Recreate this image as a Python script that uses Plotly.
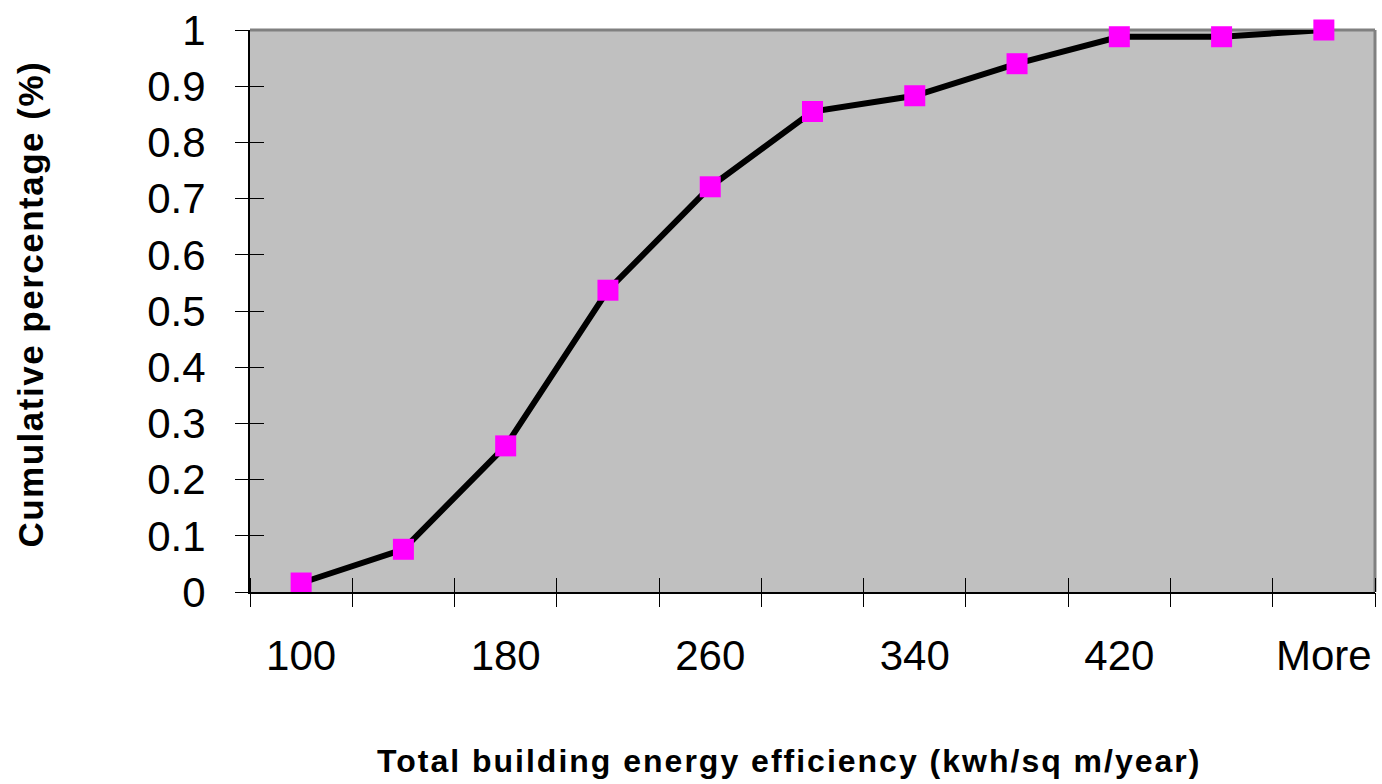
import plotly.graph_objects as go

categories = ["100", "140", "180", "220", "260", "300", "340", "380", "420", "460", "More"]
cumulative = [0.016, 0.076, 0.26, 0.537, 0.721, 0.855, 0.883, 0.94, 0.988, 0.988, 1.0]
x_label_positions = [0, 2, 4, 6, 8, 10]
x_label_text = ["100", "180", "260", "340", "420", "More"]
y_ticks = [round(i * 0.1, 1) for i in range(11)]
y_tick_text = ["0", "0.1", "0.2", "0.3", "0.4", "0.5", "0.6", "0.7", "0.8", "0.9", "1"]

idx = list(range(len(categories)))
boundaries = [i - 0.5 for i in range(len(categories) + 1)]

FONT = "Liberation Sans, Arial, sans-serif"

fig = go.Figure()
fig.add_trace(go.Scatter(
    x=idx, y=cumulative, mode="lines+markers",
    line=dict(color="black", width=6),
    marker=dict(symbol="square", size=21, color="#FF00FF", line=dict(width=0)),
    customdata=categories, hovertemplate="%{customdata}: %{y}<extra></extra>",
    showlegend=False, cliponaxis=False,
))
# invisible trace for overlay axes
fig.add_trace(go.Scatter(x=[idx[0]], y=[cumulative[0]], xaxis="x2", yaxis="y2", mode="markers",
                         marker=dict(opacity=0), showlegend=False, hoverinfo="skip"))

xr = [-0.5, 10.5]
yr = [0, 1]
T, B = 25, 192
plot_h = 784 - T - B
fig.update_layout(
    width=1382, height=784,
    margin=dict(l=250, r=7, t=T, b=B),
    paper_bgcolor="white", plot_bgcolor="#C0C0C0",
    font=dict(family=FONT, color="black"),
    xaxis=dict(range=xr, tickmode="array", tickvals=x_label_positions, ticktext=x_label_text,
               ticks="", tickfont=dict(size=42, family=FONT), ticklabelstandoff=26,
               showgrid=False, zeroline=False, showline=True, linecolor="black", linewidth=2,
               minor=dict(tickmode="array", tickvals=boundaries, ticks="inside", ticklen=14,
                          tickcolor="black", tickwidth=1, showgrid=False)),
    yaxis=dict(range=yr, tickmode="array", tickvals=y_ticks, ticktext=y_tick_text,
               ticks="inside", ticklen=14, tickcolor="black", tickwidth=1,
               tickfont=dict(size=42, family=FONT), ticklabelstandoff=34,
               showgrid=False, zeroline=False, showline=True, linecolor="black", linewidth=2),
    xaxis2=dict(range=xr, overlaying="x", anchor="y2", side="bottom", tickmode="array",
                tickvals=boundaries, ticks="outside", ticklen=14, tickcolor="black", tickwidth=1,
                showticklabels=False, showgrid=False, zeroline=False, showline=False),
    yaxis2=dict(range=yr, overlaying="y", anchor="x2", side="left", tickmode="array",
                tickvals=y_ticks, ticks="outside", ticklen=14, tickcolor="black", tickwidth=1,
                showticklabels=False, showgrid=False, zeroline=False, showline=False),
    shapes=[
        dict(type="line", xref="paper", yref="paper", x0=0, x1=1, y0=1, y1=1,
             line=dict(color="#808080", width=3), layer="below"),
        dict(type="line", xref="paper", yref="paper", x0=1, x1=1, y0=0, y1=1,
             line=dict(color="#808080", width=3), layer="below"),
    ],
    annotations=[
        dict(text="<span style='letter-spacing:2px'><b>Total building energy efficiency (kwh/sq m/year)</b></span>",
             xref="paper", yref="paper",
             x=(789 - 250) / 1125, y=(592 - 763) / plot_h, xanchor="center", yanchor="middle",
             showarrow=False, font=dict(size=32, family=FONT)),
        dict(text="<span style='letter-spacing:1.5px'><b>Cumulative percentage (%)</b></span>",
             xref="paper", yref="paper",
             x=(31 - 250) / 1125, y=(592 - 302) / plot_h, xanchor="center", yanchor="middle",
             textangle=-90, showarrow=False, font=dict(size=35, family=FONT)),
    ],
)

fig.write_html("out.html")
